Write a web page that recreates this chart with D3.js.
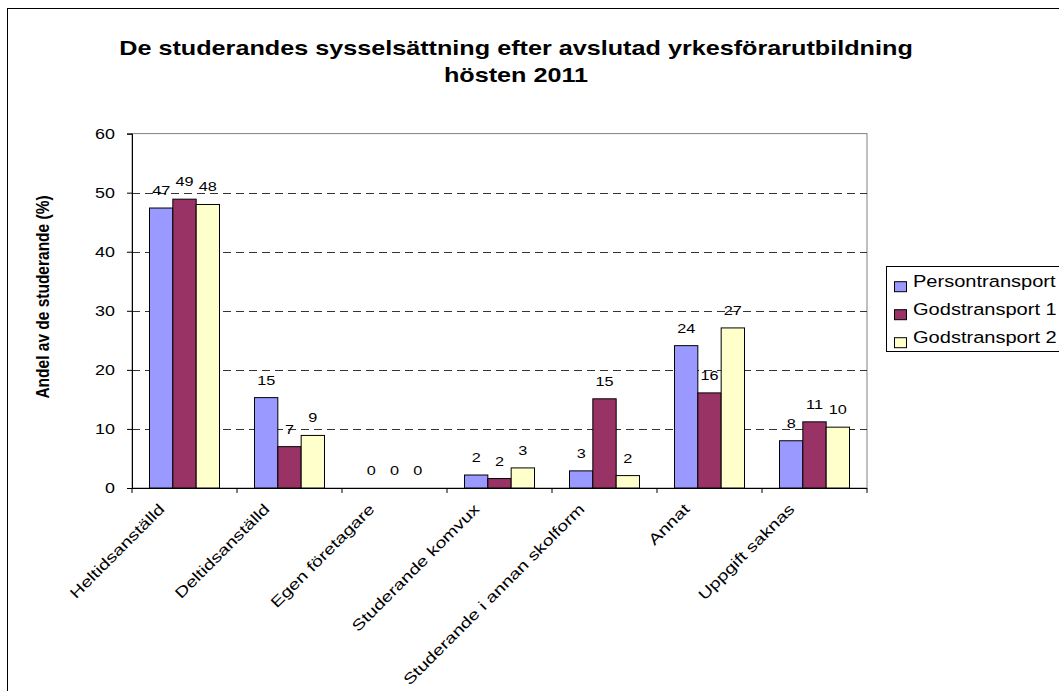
<!DOCTYPE html>
<html><head><meta charset="utf-8">
<script src="https://cdn.jsdelivr.net/npm/d3@7"></script>
<style>body{margin:0;background:#fff}svg{display:block;font-family:"Liberation Sans",Arial,sans-serif}</style>
</head><body><svg id="c" width="1059" height="691"></svg>
<script>
const categories = ["Heltidsanställd","Deltidsanställd","Egen företagare","Studerande komvux","Studerande i annan skolform","Annat","Uppgift saknas"];
const seriesNames = ["Persontransport","Godstransport 1","Godstransport 2"];
const persontransport = [47.4, 15.3, 0, 2.2, 2.9, 24.1, 8.0];
const godstransport1 = [48.9, 7.0, 0, 1.6, 15.1, 16.1, 11.2];
const godstransport2 = [48.0, 8.9, 0, 3.4, 2.1, 27.1, 10.3];
const yTicks = [0,10,20,30,40,50,60];
const colors = ["#9999FF","#993366","#FFFFCC"];
const titleLines = ["De studerandes sysselsättning efter avslutad yrkesförarutbildning","hösten 2011"];
const yTitle = "Andel av de studerande (%)";

const series = [persontransport, godstransport1, godstransport2];
const svg = d3.select("#c");
const L=132, R=867, T=133.6, B=488;

svg.append("rect").attr("x",7.5).attr("y",8.5).attr("width",1100).attr("height",800)
  .attr("fill","none").attr("stroke","#000").attr("stroke-width",1);

const x0 = d3.scaleBand().domain(categories).range([L,R]).paddingInner(1/3).paddingOuter(1/6);
const x1 = d3.scaleBand().domain(seriesNames).range([0,x0.bandwidth()]);
const y = d3.scaleLinear().domain([0,60]).range([B,T]);

function stext(parent, x, yy, sx, txt, size, anchor, extra){
  const t = parent.append("text")
    .attr("transform",`translate(${x},${yy}) ${extra||""} scale(${sx},1)`)
    .attr("font-size",size).attr("text-anchor",anchor||"start").attr("fill","#000").text(txt);
  return t;
}

// plot border
svg.append("rect").attr("x",L).attr("y",T).attr("width",R-L).attr("height",B-T)
  .attr("fill","none").attr("stroke","#808080");

// gridlines
svg.append("g").selectAll("line").data(yTicks.filter(t=>t>0&&t<60)).join("line")
  .attr("x1",L).attr("x2",R).attr("y1",d=>Math.round(y(d))+0.5).attr("y2",d=>Math.round(y(d))+0.5)
  .attr("stroke","#000").attr("stroke-dasharray","8,5").attr("stroke-width",0.8);

// bars
const g = svg.append("g");
categories.forEach((c,i)=>{
  series.forEach((s,j)=>{
    const v=s[i];
    const bx=x0(c)+x1(seriesNames[j]);
    g.append("rect").attr("x",bx).attr("y",y(v)).attr("width",x1.bandwidth()).attr("height",B-y(v))
      .attr("fill",colors[j]).attr("stroke","#000").attr("stroke-width",1);
    stext(g, bx+x1.bandwidth()/2, y(v)-13, 1.25, d3.format(".0f")(v), 13, "middle");
  });
});

// y axis
const ya = svg.append("g").attr("transform",`translate(${L},0)`)
  .call(d3.axisLeft(y).tickValues(yTicks).tickSize(5).tickFormat(""));
ya.select(".domain").attr("stroke","#000");
ya.selectAll(".tick line").attr("stroke","#000");
yTicks.forEach(t=>stext(svg, L-17, y(t)+5, 1.28, d3.format("d")(t), 14, "end"));

// x axis
const xa = svg.append("g").attr("transform",`translate(0,${B})`);
xa.append("line").attr("x1",L).attr("x2",R).attr("y1",0.5).attr("y2",0.5).attr("stroke","#000");
const step = x0.step();
xa.selectAll("line.t").data(d3.range(categories.length+1)).join("line").attr("class","t")
  .attr("x1",i=>L+i*step).attr("x2",i=>L+i*step).attr("y1",0).attr("y2",5).attr("stroke","#000");
categories.forEach(c=>{
  stext(xa, x0(c)+x0.bandwidth()/2-19, 22, 1.3, c, 15, "end", "rotate(-45)");
});

// title
titleLines.forEach((t,i)=>{
  stext(svg, 516, 55+i*27, 1.26, t, 20, "middle").attr("font-weight","bold");
});

// y title
svg.append("text").attr("transform",`translate(49,297) rotate(-90) scale(1,1.2)`).attr("text-anchor","middle")
  .attr("font-size",15.5).attr("font-weight","bold").text(yTitle);

// legend
const lg = svg.append("g");
lg.append("rect").attr("x",886.5).attr("y",266.5).attr("width",200).attr("height",85)
  .attr("fill","#fff").attr("stroke","#000");
seriesNames.forEach((n,j)=>{
  const by = 286.7 + j*28;
  lg.append("rect").attr("x",894.5).attr("y",by-5).attr("width",12).attr("height",10)
    .attr("fill",colors[j]).attr("stroke","#000");
  stext(lg, 913, by, 1.18, n, 17, "start");
});
</script></body></html>
